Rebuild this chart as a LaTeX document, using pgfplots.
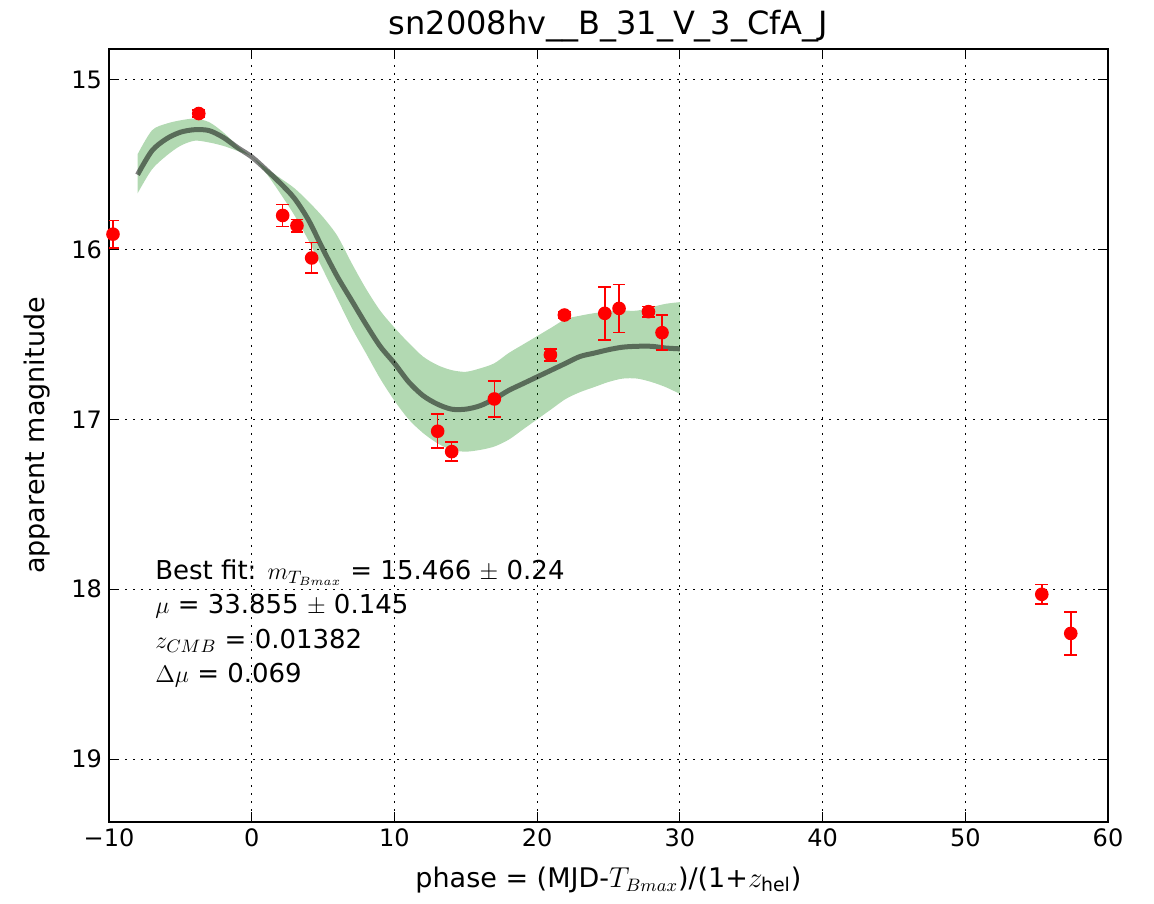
\documentclass[border=0pt]{standalone}
\usepackage{pgfplots}
\pgfplotsset{compat=1.18}
\usepgfplotslibrary{fillbetween}
\usepackage{fontspec}
\setmainfont{DejaVu Sans}
\definecolor{mplgreen}{RGB}{0,128,0}

\begin{document}
\begin{tikzpicture}
\begin{axis}[
  scale only axis,
  width=499.5pt, height=386.5pt,
  xmin=-10, xmax=60,
  ymin=14.82, ymax=19.37,
  y dir=reverse,
  xtick={-10,0,10,20,30,40,50,60},
  xticklabels={−10,0,10,20,30,40,50,60},
  ytick={15,16,17,18,19},
  /pgf/number format/assume math mode=true,
  tick label style={font=\fontsize{12}{14}\selectfont},
  label style={font=\fontsize{13.5}{15}\selectfont},
  title style={font=\fontsize{16}{18}\selectfont, yshift=-6pt},
  title={sn2008hv\_\_B\_31\_V\_3\_CfA\_J},
  xlabel={phase = (MJD-$T_{Bmax}$)/(1+$z_{\mathrm{hel}}$)},
  ylabel={apparent magnitude},
  xlabel style={yshift=-3pt},
  ylabel style={yshift=4pt},
  major tick length=5pt,
  tick align=inside,
  tick style={black, line width=0.6pt},
  axis line style={line width=1pt},
  grid=major,
  major grid style={black, line width=0.6pt, dash pattern=on 0.8pt off 3.2pt},
]
% uncertainty band edges
\addplot[name path=upper, draw=none, smooth] coordinates {
  (-8,15.44) (-7,15.30) (-6,15.26) (-5,15.24) (-4,15.23) (-3,15.25) (-2,15.31) (-1,15.39)
  (0,15.455) (1,15.52) (2,15.58) (3,15.64) (4,15.72) (5,15.81) (6,15.92) (7,16.08)
  (8,16.23) (9,16.36) (10,16.46) (11,16.55) (12,16.63) (13,16.68) (14,16.71) (15,16.72)
  (16,16.70) (17,16.67) (18,16.61) (19,16.56) (20,16.51) (21,16.46) (22,16.41) (23,16.39)
  (24,16.375) (25,16.365) (26,16.36) (27,16.36) (28,16.34) (29,16.32) (30,16.31)
};
\addplot[name path=lower, draw=none, smooth] coordinates {
  (-8,15.67) (-7,15.53) (-6,15.45) (-5,15.39) (-4,15.36) (-3,15.37) (-2,15.39) (-1,15.42)
  (0,15.455) (1,15.55) (2,15.67) (3,15.80) (4,15.95) (5,16.12) (6,16.29) (7,16.46)
  (8,16.61) (9,16.76) (10,16.89) (11,17.00) (12,17.08) (13,17.14) (14,17.18) (15,17.19)
  (16,17.18) (17,17.16) (18,17.12) (19,17.06) (20,17.00) (21,16.94) (22,16.88) (23,16.84)
  (24,16.81) (25,16.78) (26,16.76) (27,16.76) (28,16.78) (29,16.81) (30,16.85)
};
\addplot[mplgreen, fill opacity=0.3, draw=none] fill between[of=upper and lower];
% best-fit template
\addplot[black, opacity=0.5, line width=2.5pt, smooth] coordinates {
  (-8,15.56) (-7,15.42) (-6,15.35) (-5,15.31) (-4,15.295) (-3,15.30) (-2,15.34) (-1,15.40)
  (0,15.455) (1,15.53) (2,15.61) (3,15.70) (4,15.83) (5,16.00) (6,16.16) (7,16.30)
  (8,16.44) (9,16.57) (10,16.67) (11,16.78) (12,16.86) (13,16.91) (14,16.94) (15,16.94)
  (16,16.92) (17,16.88) (18,16.83) (19,16.79) (20,16.75) (21,16.71) (22,16.67) (23,16.63)
  (24,16.61) (25,16.59) (26,16.575) (27,16.57) (28,16.57) (29,16.58) (30,16.585)
};
% observations
\addplot[only marks, red, mark=*, mark size=3pt, line width=0.8pt,
  error bars/.cd, y dir=both, y explicit,
  error bar style={red, line width=0.8pt},
  error mark options={rotate=90, red, mark size=3.2pt, line width=0.8pt}]
  table[x=x, y=y, y error=e] {
x      y       e
-9.72  15.91   0.08
-3.71  15.20   0.02
2.17   15.80   0.064
3.17   15.86   0.037
4.20   16.05   0.09
13.03  17.07   0.10
14.01  17.19   0.055
17.00  16.88   0.106
20.93  16.62   0.035
21.91  16.386  0.02
24.74  16.376  0.156
25.74  16.347  0.141
27.80  16.366  0.031
28.75  16.49   0.103
55.36  18.03   0.057
57.39  18.26   0.127
};
\node[anchor=base west, inner sep=0pt, font=\fontsize{13}{15}\selectfont] at (axis cs:-6.78,17.945) {Best fit: $m_{T_{Bmax}}$ = 15.466 $\pm$ 0.24};
\node[anchor=base west, inner sep=0pt, font=\fontsize{13}{15}\selectfont] at (axis cs:-6.78,18.14) {$\mu$ = 33.855 $\pm$ 0.145};
\node[anchor=base west, inner sep=0pt, font=\fontsize{13}{15}\selectfont] at (axis cs:-6.78,18.35) {$z_{CMB}$ = 0.01382};
\node[anchor=base west, inner sep=0pt, font=\fontsize{13}{15}\selectfont] at (axis cs:-6.78,18.55) {$\Delta\mu$ = 0.069};
\end{axis}
\path ([xshift=-54.5pt,yshift=-40.5pt]current axis.south west) rectangle ([xshift=23pt,yshift=24.5pt]current axis.north east);
\end{tikzpicture}
\end{document}
